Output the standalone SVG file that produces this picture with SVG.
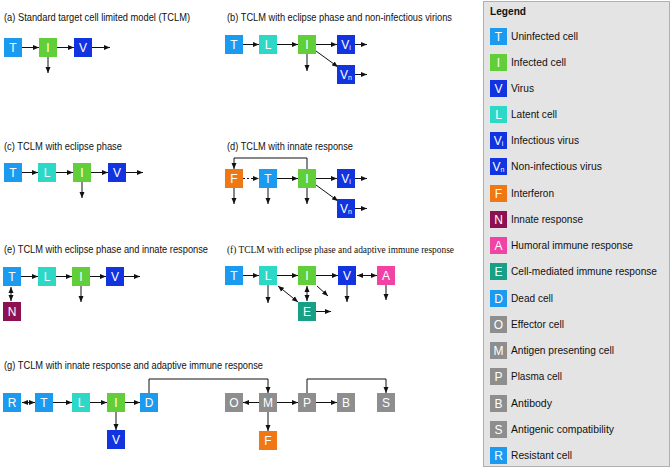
<svg xmlns="http://www.w3.org/2000/svg" width="672" height="468" viewBox="0 0 672 468">
<style>
.t{font-family:"Liberation Sans",Arial,sans-serif;font-size:11px;fill:#111}
.ts{font-family:"Liberation Serif","Times New Roman",serif;font-size:11px;fill:#111}
.lg{font-family:"Liberation Sans",Arial,sans-serif;font-size:11.5px;fill:#111}
.n text{font-family:"Liberation Sans",Arial,sans-serif;font-size:12px;fill:#fff;text-anchor:middle}
.sub{font-size:7px}
.cT{fill:#1a9bf0}.cI{fill:#62cf3a}.cV{fill:#1133e0}.cL{fill:#2ed8c6}.cF{fill:#f07814}
.cN{fill:#8d1150}.cA{fill:#f043a3}.cE{fill:#17a085}.cG{fill:#8e8e8e}
.c line,.c polyline,.c path{stroke:#111;stroke-width:1;fill:none}
.a{marker-end:url(#ah)}
.b{marker-start:url(#as);marker-end:url(#ah)}
.d{stroke-dasharray:2 2}
</style>
<defs>
<marker id="ah" markerUnits="userSpaceOnUse" markerWidth="6" markerHeight="6" viewBox="0 0 6 6" refX="6" refY="3" orient="auto"><path d="M0,0.5 L6,3 L0,5.5 Z" fill="#111"/></marker>
<marker id="as" markerUnits="userSpaceOnUse" markerWidth="6" markerHeight="6" viewBox="0 0 6 6" refX="0" refY="3" orient="auto"><path d="M6,0.5 L0,3 L6,5.5 Z" fill="#111"/></marker>
</defs>
<rect width="672" height="468" fill="#fff"/>

<!-- titles -->
<g id="titles">
<text class="t" x="4" y="21" textLength="186" lengthAdjust="spacingAndGlyphs">(a) Standard target cell limited model (TCLM)</text>
<text class="t" x="227" y="21" textLength="225" lengthAdjust="spacingAndGlyphs">(b) TCLM with eclipse phase and non-infectious virions</text>
<text class="t" x="4" y="150" textLength="118" lengthAdjust="spacingAndGlyphs">(c) TCLM with eclipse phase</text>
<text class="t" x="227" y="150" textLength="126" lengthAdjust="spacingAndGlyphs">(d) TCLM with innate response</text>
<text class="t" x="4" y="253" textLength="204" lengthAdjust="spacingAndGlyphs">(e) TCLM with eclipse phase and innate response</text>
<text class="ts" x="227" y="253" textLength="227" lengthAdjust="spacingAndGlyphs">(f) TCLM with eclipse phase and adaptive immune response</text>
<text class="t" x="4" y="369" textLength="259" lengthAdjust="spacingAndGlyphs">(g) TCLM with innate response and adaptive immune response</text>
</g>

<!-- connectors -->
<g id="connectors" class="c">
<!-- a -->
<line class="a" x1="22" y1="47.5" x2="39" y2="47.5"/>
<line class="a" x1="57" y1="47.5" x2="74" y2="47.5"/>
<line class="a" x1="92" y1="47.5" x2="110" y2="47.5"/>
<line class="a" x1="48" y1="57" x2="48" y2="73"/>
<!-- b -->
<line class="a" x1="243" y1="44.5" x2="259" y2="44.5"/>
<line class="a" x1="277" y1="44.5" x2="298" y2="44.5"/>
<line class="a" x1="316" y1="44.5" x2="337" y2="44.5"/>
<line class="a" x1="355" y1="44.5" x2="367" y2="44.5"/>
<line class="a" x1="355" y1="74.5" x2="367" y2="74.5"/>
<line class="a" x1="307" y1="54" x2="307" y2="71"/>
<line class="a" x1="316" y1="51" x2="338" y2="67"/>
<!-- c -->
<line class="a" x1="22" y1="172.5" x2="38" y2="172.5"/>
<line class="a" x1="56" y1="172.5" x2="73" y2="172.5"/>
<line class="a" x1="91" y1="172.5" x2="108" y2="172.5"/>
<line class="a" x1="126" y1="172.5" x2="143" y2="172.5"/>
<line class="a" x1="82" y1="182" x2="82" y2="198"/>
<!-- d -->
<line class="a d" x1="243" y1="178.5" x2="259" y2="178.5"/>
<line class="a" x1="277" y1="178.5" x2="298" y2="178.5"/>
<line class="a" x1="316" y1="178.5" x2="337" y2="178.5"/>
<line class="a" x1="355" y1="178.5" x2="367" y2="178.5"/>
<line class="a" x1="355" y1="208.5" x2="367" y2="208.5"/>
<line class="a" x1="316" y1="185" x2="338" y2="201"/>
<line class="a" x1="234" y1="188" x2="234" y2="204"/>
<line class="a" x1="268" y1="188" x2="268" y2="204"/>
<line class="a" x1="307" y1="188" x2="307" y2="204"/>
<polyline class="a" points="307,169 307,158 234,158 234,169"/>
<!-- e -->
<line class="a" x1="21" y1="276.5" x2="38" y2="276.5"/>
<line class="a" x1="56" y1="276.5" x2="72" y2="276.5"/>
<line class="a" x1="90" y1="276.5" x2="106" y2="276.5"/>
<line class="a" x1="124" y1="276.5" x2="140" y2="276.5"/>
<line class="a" x1="81" y1="286" x2="81" y2="302"/>
<line class="b" x1="11" y1="287" x2="11" y2="301"/>
<!-- f -->
<line class="a" x1="243" y1="275.5" x2="259" y2="275.5"/>
<line class="a" x1="277" y1="275.5" x2="298" y2="275.5"/>
<line class="a" x1="316" y1="275.5" x2="338" y2="275.5"/>
<line class="b" x1="357" y1="275.5" x2="377" y2="275.5"/>
<line class="a" x1="268" y1="285" x2="268" y2="303"/>
<line class="b" x1="307" y1="286" x2="307" y2="301"/>
<line class="b" x1="278" y1="286" x2="298" y2="302"/>
<line class="a" x1="317" y1="286" x2="328" y2="296"/>
<line class="a" x1="347" y1="285" x2="347" y2="302"/>
<line class="a" x1="386" y1="285" x2="386" y2="300"/>
<line class="a" x1="316" y1="311.5" x2="331" y2="311.5"/>
<!-- g -->
<line class="b" x1="22" y1="402.5" x2="35" y2="402.5"/>
<line class="a" x1="53" y1="402.5" x2="72" y2="402.5"/>
<line class="a" x1="90" y1="402.5" x2="107" y2="402.5"/>
<line class="a" x1="125" y1="402.5" x2="140" y2="402.5"/>
<line class="a" x1="116" y1="412" x2="116" y2="430"/>
<polyline class="a" points="149,393 149,379 268,379 268,393"/>
<line class="a" x1="259" y1="402.5" x2="243" y2="402.5"/>
<line class="a" x1="277" y1="402.5" x2="298" y2="402.5"/>
<line class="a" x1="316" y1="402.5" x2="337" y2="402.5"/>
<line class="a" x1="268" y1="412" x2="268" y2="431"/>
<polyline class="a" points="307,393 307,379 386,379 386,393"/>
</g>

<!-- panel a -->
<g id="a-T" class="n"><rect class="cT" x="4" y="38" width="18" height="19"/><text x="13" y="52">T</text></g>
<g id="a-I" class="n"><rect class="cI" x="39" y="38" width="18" height="19"/><text x="48" y="52">I</text></g>
<g id="a-V" class="n"><rect class="cV" x="74" y="38" width="18" height="19"/><text x="83" y="52">V</text></g>
<!-- panel b -->
<g id="b-T" class="n"><rect class="cT" x="225" y="35" width="18" height="19"/><text x="234" y="49">T</text></g>
<g id="b-L" class="n"><rect class="cL" x="259" y="35" width="18" height="19"/><text x="268" y="49">L</text></g>
<g id="b-I" class="n"><rect class="cI" x="298" y="35" width="18" height="19"/><text x="307" y="49">I</text></g>
<g id="b-Vi" class="n"><rect class="cV" x="337" y="35" width="18" height="19"/><text x="346" y="49">V<tspan class="sub" dy="1">i</tspan></text></g>
<g id="b-Vn" class="n"><rect class="cV" x="337" y="65" width="18" height="19"/><text x="346" y="79">V<tspan class="sub" dy="1">n</tspan></text></g>
<!-- panel c -->
<g id="c-T" class="n"><rect class="cT" x="4" y="163" width="18" height="19"/><text x="13" y="177">T</text></g>
<g id="c-L" class="n"><rect class="cL" x="38" y="163" width="18" height="19"/><text x="47" y="177">L</text></g>
<g id="c-I" class="n"><rect class="cI" x="73" y="163" width="18" height="19"/><text x="82" y="177">I</text></g>
<g id="c-V" class="n"><rect class="cV" x="108" y="163" width="18" height="19"/><text x="117" y="177">V</text></g>
<!-- panel d -->
<g id="d-F" class="n"><rect class="cF" x="225" y="169" width="18" height="19"/><text x="234" y="183">F</text></g>
<g id="d-T" class="n"><rect class="cT" x="259" y="169" width="18" height="19"/><text x="268" y="183">T</text></g>
<g id="d-I" class="n"><rect class="cI" x="298" y="169" width="18" height="19"/><text x="307" y="183">I</text></g>
<g id="d-Vi" class="n"><rect class="cV" x="337" y="169" width="18" height="19"/><text x="346" y="183">V<tspan class="sub" dy="1">i</tspan></text></g>
<g id="d-Vn" class="n"><rect class="cV" x="337" y="199" width="18" height="19"/><text x="346" y="213">V<tspan class="sub" dy="1">n</tspan></text></g>
<!-- panel e -->
<g id="e-T" class="n"><rect class="cT" x="3" y="267" width="18" height="19"/><text x="12" y="281">T</text></g>
<g id="e-L" class="n"><rect class="cL" x="38" y="267" width="18" height="19"/><text x="47" y="281">L</text></g>
<g id="e-I" class="n"><rect class="cI" x="72" y="267" width="18" height="19"/><text x="81" y="281">I</text></g>
<g id="e-V" class="n"><rect class="cV" x="106" y="267" width="18" height="19"/><text x="115" y="281">V</text></g>
<g id="e-N" class="n"><rect class="cN" x="3" y="302" width="18" height="19"/><text x="12" y="316">N</text></g>
<!-- panel f -->
<g id="f-T" class="n"><rect class="cT" x="225" y="266" width="18" height="19"/><text x="234" y="280">T</text></g>
<g id="f-L" class="n"><rect class="cL" x="259" y="266" width="18" height="19"/><text x="268" y="280">L</text></g>
<g id="f-I" class="n"><rect class="cI" x="298" y="266" width="18" height="19"/><text x="307" y="280">I</text></g>
<g id="f-V" class="n"><rect class="cV" x="338" y="266" width="18" height="19"/><text x="347" y="280">V</text></g>
<g id="f-A" class="n"><rect class="cA" x="377" y="266" width="18" height="19"/><text x="386" y="280">A</text></g>
<g id="f-E" class="n"><rect class="cE" x="298" y="302" width="18" height="19"/><text x="307" y="316">E</text></g>
<!-- panel g -->
<g id="g-R" class="n"><rect class="cT" x="3" y="393" width="18" height="19"/><text x="12" y="407">R</text></g>
<g id="g-T" class="n"><rect class="cT" x="35" y="393" width="18" height="19"/><text x="44" y="407">T</text></g>
<g id="g-L" class="n"><rect class="cL" x="72" y="393" width="18" height="19"/><text x="81" y="407">L</text></g>
<g id="g-I" class="n"><rect class="cI" x="107" y="393" width="18" height="19"/><text x="116" y="407">I</text></g>
<g id="g-D" class="n"><rect class="cT" x="140" y="393" width="18" height="19"/><text x="149" y="407">D</text></g>
<g id="g-V" class="n"><rect class="cV" x="107" y="430" width="18" height="19"/><text x="116" y="444">V</text></g>
<g id="g-O" class="n"><rect class="cG" x="225" y="393" width="18" height="19"/><text x="234" y="407">O</text></g>
<g id="g-M" class="n"><rect class="cG" x="259" y="393" width="18" height="19"/><text x="268" y="407">M</text></g>
<g id="g-P" class="n"><rect class="cG" x="298" y="393" width="18" height="19"/><text x="307" y="407">P</text></g>
<g id="g-B" class="n"><rect class="cG" x="337" y="393" width="18" height="19"/><text x="346" y="407">B</text></g>
<g id="g-S" class="n"><rect class="cG" x="377" y="393" width="18" height="19"/><text x="386" y="407">S</text></g>
<g id="g-F" class="n"><rect class="cF" x="259" y="431" width="18" height="19"/><text x="268" y="445">F</text></g>

<!-- legend -->
<g id="legend">
<rect x="483.5" y="1.5" width="186" height="465" fill="#e4e4e4" stroke="#b0b0b0" stroke-width="1"/>
<text x="490" y="15" style="font-family:'Liberation Sans',Arial,sans-serif;font-size:11.5px;font-weight:bold;fill:#111" textLength="36" lengthAdjust="spacingAndGlyphs">Legend</text>
<g class="n"><rect class="cT" x="490" y="28" width="17" height="17"/><text x="498.5" y="41">T</text></g>
<text class="lg" x="511" y="40" textLength="67" lengthAdjust="spacingAndGlyphs">Uninfected cell</text>
<g class="n"><rect class="cI" x="490" y="54" width="17" height="17"/><text x="498.5" y="67">I</text></g>
<text class="lg" x="511" y="66" textLength="55" lengthAdjust="spacingAndGlyphs">Infected cell</text>
<g class="n"><rect class="cV" x="490" y="80" width="17" height="17"/><text x="498.5" y="93">V</text></g>
<text class="lg" x="511" y="92" textLength="23" lengthAdjust="spacingAndGlyphs">Virus</text>
<g class="n"><rect class="cL" x="490" y="106" width="17" height="17"/><text x="498.5" y="119">L</text></g>
<text class="lg" x="511" y="118" textLength="46" lengthAdjust="spacingAndGlyphs">Latent cell</text>
<g class="n"><rect class="cV" x="490" y="132" width="17" height="17"/><text x="498.5" y="145">V<tspan class="sub" dy="1">i</tspan></text></g>
<text class="lg" x="511" y="144" textLength="68" lengthAdjust="spacingAndGlyphs">Infectious virus</text>
<g class="n"><rect class="cV" x="490" y="158" width="17" height="17"/><text x="498.5" y="171">V<tspan class="sub" dy="1">n</tspan></text></g>
<text class="lg" x="511" y="170" textLength="91" lengthAdjust="spacingAndGlyphs">Non-infectious virus</text>
<g class="n"><rect class="cF" x="490" y="185" width="17" height="17"/><text x="498.5" y="198">F</text></g>
<text class="lg" x="511" y="197" textLength="43" lengthAdjust="spacingAndGlyphs">Interferon</text>
<g class="n"><rect class="cN" x="490" y="211" width="17" height="17"/><text x="498.5" y="224">N</text></g>
<text class="lg" x="511" y="223" textLength="72" lengthAdjust="spacingAndGlyphs">Innate response</text>
<g class="n"><rect class="cA" x="490" y="237" width="17" height="17"/><text x="498.5" y="250">A</text></g>
<text class="lg" x="511" y="249" textLength="122" lengthAdjust="spacingAndGlyphs">Humoral immune response</text>
<g class="n"><rect class="cE" x="490" y="263" width="17" height="17"/><text x="498.5" y="276">E</text></g>
<text class="lg" x="511" y="275" style="font-size:10.5px" textLength="146" lengthAdjust="spacingAndGlyphs">Cell-mediated immune response</text>
<g class="n"><rect class="cT" x="490" y="290" width="17" height="17"/><text x="498.5" y="303">D</text></g>
<text class="lg" x="511" y="302" textLength="42" lengthAdjust="spacingAndGlyphs">Dead cell</text>
<g class="n"><rect class="cG" x="490" y="316" width="17" height="17"/><text x="498.5" y="329">O</text></g>
<text class="lg" x="511" y="328" textLength="53" lengthAdjust="spacingAndGlyphs">Effector cell</text>
<g class="n"><rect class="cG" x="490" y="342" width="17" height="17"/><text x="498.5" y="355">M</text></g>
<text class="lg" x="511" y="354" textLength="103" lengthAdjust="spacingAndGlyphs">Antigen presenting cell</text>
<g class="n"><rect class="cG" x="490" y="368" width="17" height="17"/><text x="498.5" y="381">P</text></g>
<text class="lg" x="511" y="380" textLength="51" lengthAdjust="spacingAndGlyphs">Plasma cell</text>
<g class="n"><rect class="cG" x="490" y="395" width="17" height="17"/><text x="498.5" y="408">B</text></g>
<text class="lg" x="511" y="407" textLength="41" lengthAdjust="spacingAndGlyphs">Antibody</text>
<g class="n"><rect class="cG" x="490" y="421" width="17" height="17"/><text x="498.5" y="434">S</text></g>
<text class="lg" x="511" y="433" textLength="103" lengthAdjust="spacingAndGlyphs">Antigenic compatibility</text>
<g class="n"><rect class="cT" x="490" y="447" width="17" height="17"/><text x="498.5" y="460">R</text></g>
<text class="lg" x="511" y="459" textLength="61" lengthAdjust="spacingAndGlyphs">Resistant cell</text>
</g>
</svg>
